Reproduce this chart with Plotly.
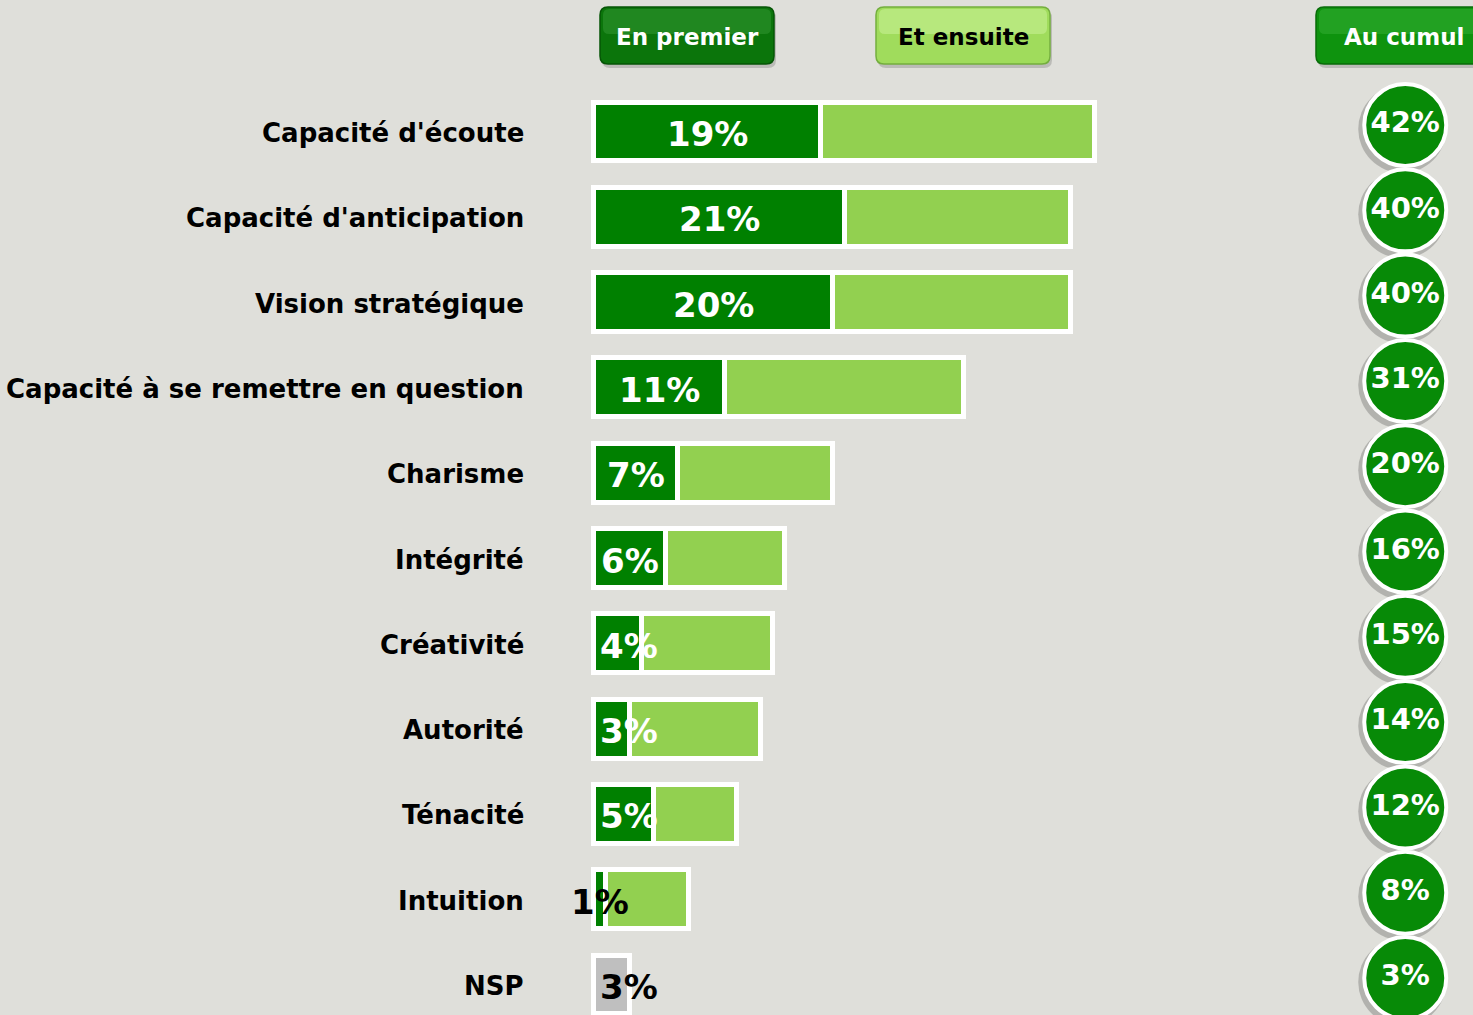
import plotly.graph_objects as go

# --- data -----------------------------------------------------------------
categories = ["Capacité d'écoute", "Capacité d'anticipation", "Vision stratégique",
              "Capacité à se remettre en question", "Charisme", "Intégrité",
              "Créativité", "Autorité", "Ténacité", "Intuition", "NSP"]
en_premier = [19, 21, 20, 11, 7, 6, 4, 3, 5, 1, 3]
au_cumul = [42, 40, 40, 31, 20, 16, 15, 14, 12, 8, 3]
headers = ["En premier", "Et ensuite", "Au cumul"]

# --- layout constants (pixels) --------------------------------------------
W, H = 1473, 1015
X0_PX, PX_PER_PCT = 594, 11.93      # where 0 % sits, px for 1 %
ROW0_PX, ROW_PX = 132, 85.3         # first row centre, row pitch
CIRCLE_X = 68                       # % position of the "au cumul" column
LABEL_X = (526 - X0_PX) / PX_PER_PCT

BG = "#DFDFDA"
DARK = "#008000"
LIGHT = "#92D050"
GREY = "#BFBFBF"
CIRCLE = "#078A07"
FONT = "DejaVu Sans"


def xrange_px(shift=0):
    return [-(X0_PX + shift) / PX_PER_PCT, (W - X0_PX - shift) / PX_PER_PCT]


def yrange_px(shift=0):
    top = ROW0_PX + shift
    return [(H - top) / ROW_PX, -top / ROW_PX]


is_nsp = [c == "NSP" for c in categories]
ensuite = [None if n else c - p for p, c, n in zip(en_premier, au_cumul, is_nsp)]
premier_colors = [GREY if n else DARK for n in is_nsp]

fig = go.Figure()

fig.add_trace(go.Bar(
    y=categories, x=en_premier, orientation="h", name=headers[0],
    marker=dict(color=premier_colors, line=dict(color="white", width=5.5)),
    width=0.69, hoverinfo="x+y",
))
fig.add_trace(go.Bar(
    y=categories, x=ensuite, orientation="h", name=headers[1],
    marker=dict(color=LIGHT, line=dict(color="white", width=5.5)),
    width=0.69, hoverinfo="x+y",
))

# values inside the dark segment (pushed right when the segment is too narrow)
for cat, v, n in zip(categories, en_premier, is_nsp):
    tx = max(v / 2, 2.9) if v >= 2 else v / 2
    col = "black" if (n or v < 2) else "white"
    fig.add_annotation(
        x=tx, y=cat, xref="x", yref="y", text=f"{v}%", showarrow=False,
        xanchor="center", yanchor="middle", yshift=-2,
        font=dict(family=FONT, size=34, color=col, weight="bold"),
    )

# category labels
for cat in categories:
    fig.add_annotation(
        x=LABEL_X, y=cat, xref="x", yref="y", text=cat, showarrow=False,
        xanchor="right", yanchor="middle", yshift=-1,
        font=dict(family=FONT, size=26, color="black", weight="bold"),
    )

# cumulative circles: shadow then disc (overlay axes shifted by a few px)
fig.add_trace(go.Scatter(
    y=categories, x=[CIRCLE_X] * len(categories), mode="markers",
    marker=dict(size=88, color="rgba(0,0,0,0.20)", line=dict(width=0)),
    xaxis="x2", yaxis="y2", hoverinfo="skip", showlegend=False,
))
fig.add_trace(go.Scatter(
    y=categories, x=[CIRCLE_X] * len(categories), mode="markers+text",
    marker=dict(size=82, color=CIRCLE, line=dict(color="white", width=4)),
    text=[f"{v}%" for v in au_cumul], textposition="middle center",
    textfont=dict(family=FONT, size=29, color="white", weight="bold"),
    xaxis="x3", yaxis="y3", hoverinfo="skip", showlegend=False,
))


# header buttons
def px2paper(x, y):
    return x / W, 1 - y / H


def rounded(x0, y0, x1, y1, r=8):
    rx, ry = r / W, r / H
    a0, b0 = px2paper(x0, y0)
    a1, b1 = px2paper(x1, y1)
    return (f"M {a0 + rx},{b0} L {a1 - rx},{b0} Q {a1},{b0} {a1},{b0 - ry} "
            f"L {a1},{b1 + ry} Q {a1},{b1} {a1 - rx},{b1} L {a0 + rx},{b1} "
            f"Q {a0},{b1} {a0},{b1 + ry} L {a0},{b0 - ry} Q {a0},{b0} {a0 + rx},{b0} Z")


buttons = [
    (600, 774, "#0B750B", "#065506", "rgba(110,200,110,0.22)", "white"),
    (876, 1050, "#A0DC5C", "#74AE3E", "rgba(225,255,185,0.35)", "black"),
    (1316, 1492, "#0E930E", "#096C09", "rgba(110,215,110,0.22)", "white"),
]
for (x0, x1, fill, edge, hi, tc), label in zip(buttons, headers):
    fig.add_shape(type="path", path=rounded(x0 + 2, 10, x1 + 2, 68), xref="paper",
                  yref="paper", fillcolor="rgba(0,0,0,0.16)", line=dict(width=0))
    fig.add_shape(type="path", path=rounded(x0, 7, x1, 64), xref="paper",
                  yref="paper", fillcolor=fill, line=dict(color=edge, width=1.5))
    fig.add_shape(type="path", path=rounded(x0 + 3, 9, x1 - 3, 34, r=6), xref="paper",
                  yref="paper", fillcolor=hi, line=dict(width=0))
    cx, cy = px2paper((x0 + x1) / 2, 37)
    fig.add_annotation(x=cx, y=cy, xref="paper", yref="paper", text=label,
                       showarrow=False, xanchor="center", yanchor="middle",
                       font=dict(family=FONT, size=23, color=tc, weight="bold"))

axis_off = dict(visible=False, fixedrange=True)
cat_axis = dict(type="category", categoryorder="array", categoryarray=categories)
fig.update_layout(
    width=W, height=H, autosize=False,
    margin=dict(l=0, r=0, t=0, b=0, pad=0),
    paper_bgcolor=BG, plot_bgcolor=BG,
    barmode="stack", bargap=0, showlegend=False,
    font=dict(family=FONT),
    xaxis=dict(range=xrange_px(), **axis_off),
    xaxis2=dict(range=xrange_px(-3), overlaying="x", **axis_off),
    xaxis3=dict(range=xrange_px(), overlaying="x", **axis_off),
    yaxis=dict(range=yrange_px(), **cat_axis, **axis_off),
    yaxis2=dict(range=yrange_px(-3), overlaying="y", **cat_axis, **axis_off),
    yaxis3=dict(range=yrange_px(-7), overlaying="y", **cat_axis, **axis_off),
)

fig.write_html("out.html", config={"displayModeBar": False},
               post_script="document.body.style.margin='0';"
                           "document.body.style.overflow='hidden';")
